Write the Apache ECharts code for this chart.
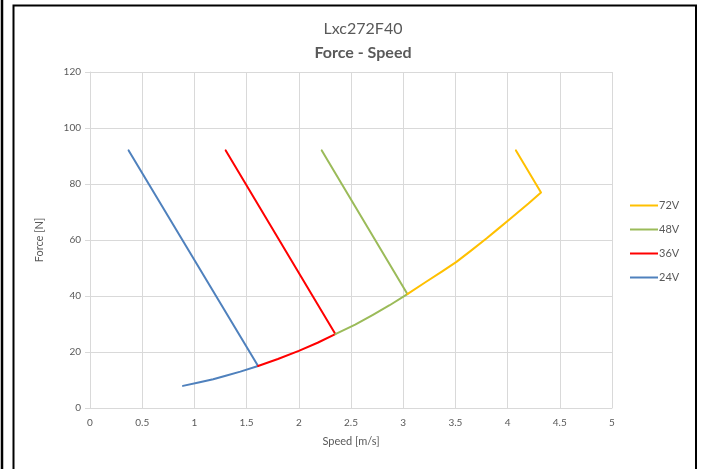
<!DOCTYPE html>
<html>
<head>
<meta charset="utf-8">
<script src="https://cdn.jsdelivr.net/npm/echarts@6/dist/echarts.min.js"></script>
<style>html,body{margin:0;padding:0;background:#fff;}#c{width:702px;height:469px;}</style>
</head>
<body>
<div id="c"></div>
<script>
const seriesNames = ['72V', '48V', '36V', '24V'];
const seriesColors = ['#FFC000', '#9BBB59', '#FF0000', '#4F81BD'];
const v72 = [[4.08, 92], [4.32, 77], [4.2, 73], [4.02, 67.4], [3.9, 63.7], [3.8, 60.6], [3.65, 56.2], [3.51, 52.2], [3.37, 48.7], [3.22, 45.1], [3.04, 40.7]];
const v48 = [[2.22, 92], [3.04, 40.7], [2.87, 36.7], [2.71, 33.3], [2.54, 29.8], [2.35, 26.4]];
const v36 = [[1.30, 92], [2.35, 26.4], [2.18, 23.3], [2.0, 20.4], [1.8, 17.5], [1.61, 15]];
const v24 = [[0.37, 92], [1.61, 15], [1.44, 13], [1.3, 11.5], [1.18, 10.3], [1.04, 9.1], [0.89, 7.9]];
const seriesData = [v72, v48, v36, v24];
const xTicks = { min: 0, max: 5, interval: 0.5 };
const yTicks = { min: 0, max: 120, interval: 20 };

const font = 'Lato, "Open Sans", sans-serif';
const chart = echarts.init(document.getElementById('c'));
chart.setOption({
  animation: false,
  backgroundColor: '#fff',
  title: [
    { text: 'Lxc272F40', left: 358, top: 16, textAlign: 'center',
      textStyle: { fontFamily: font, fontSize: 16, fontWeight: 'normal', color: '#595959' } },
    { text: 'Force - Speed', left: 358, top: 40, textAlign: 'center',
      textStyle: { fontFamily: font, fontSize: 16, fontWeight: 'bold', color: '#595959' } }
  ],
  grid: { left: 90, right: 90, top: 72, bottom: 61 },
  legend: {
    orient: 'vertical', left: 625, top: 195, itemGap: 13,
    itemWidth: 28, itemHeight: 14, icon: 'path://M0,6 L28,6 L28,8 L0,8 Z',
    data: seriesNames,
    textStyle: { fontFamily: font, fontSize: 11, color: '#595959', padding: [0, 0, 0, -4] }
  },
  xAxis: {
    type: 'value', min: xTicks.min, max: xTicks.max, interval: xTicks.interval,
    name: 'Speed [m/s]', nameLocation: 'middle', nameGap: 28,
    nameTextStyle: { fontFamily: font, fontSize: 11, color: '#595959' },
    axisLine: { show: true, lineStyle: { color: '#d9d9d9' } },
    axisTick: { show: false },
    axisLabel: { fontFamily: font, fontSize: 10, color: '#595959', margin: 10 },
    splitLine: { show: true, lineStyle: { color: '#d9d9d9' } }
  },
  yAxis: {
    type: 'value', min: yTicks.min, max: yTicks.max, interval: yTicks.interval,
    name: 'Force [N]', nameLocation: 'middle', nameGap: 45, nameRotate: 90,
    nameTextStyle: { fontFamily: font, fontSize: 11, color: '#595959' },
    axisLine: { show: true, lineStyle: { color: '#d9d9d9' } },
    axisTick: { show: true, length: 5, lineStyle: { color: '#d9d9d9' } },
    axisLabel: { fontFamily: font, fontSize: 10, color: '#595959', margin: 9 },
    splitLine: { show: true, lineStyle: { color: '#d9d9d9' } }
  },
  series: seriesNames.map((n, i) => ({
    name: n, type: 'line', data: seriesData[i], showSymbol: false, symbol: 'none',
    smooth: false, color: seriesColors[i],
    lineStyle: { width: 2, color: seriesColors[i], join: 'round', cap: 'round' }, z: 10 - i
  })),
  graphic: [
    { type: 'line', shape: { x1: 2, y1: 0, x2: 2, y2: 469 }, style: { stroke: '#000', lineWidth: 2.5 } },
    { type: 'rect', shape: { x: 13.5, y: 5.5, width: 682.5, height: 470 }, style: { fill: null, stroke: '#000', lineWidth: 2 } }
  ]
});
</script>
</body>
</html>
